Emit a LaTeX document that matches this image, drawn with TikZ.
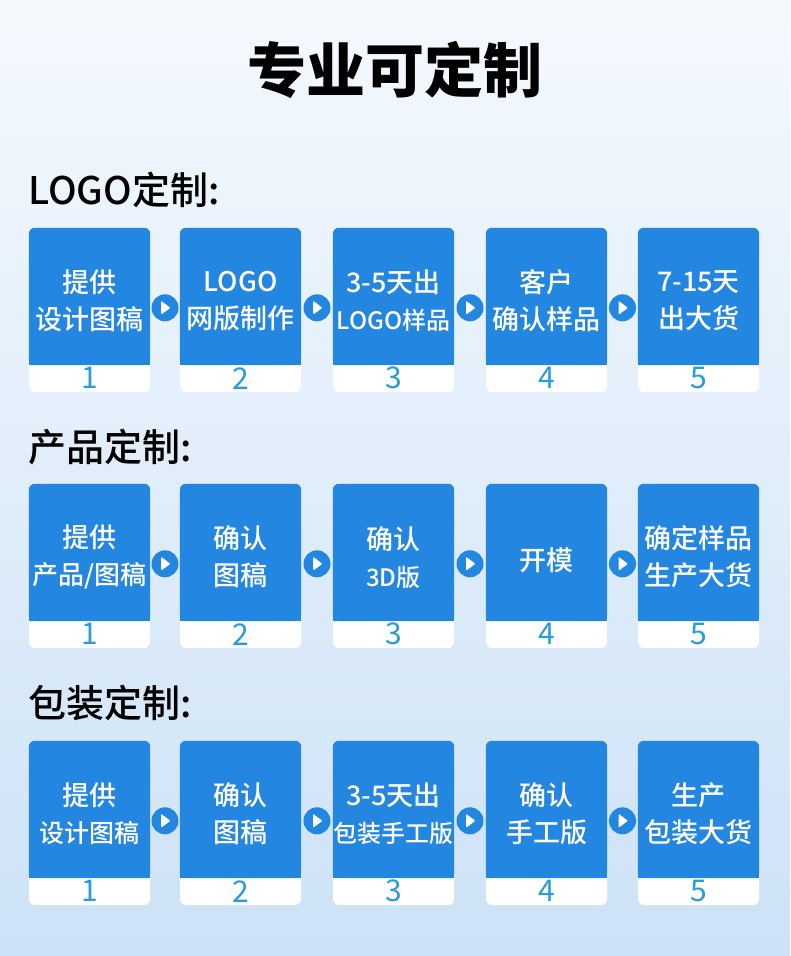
\documentclass[tikz,border=0pt]{standalone}
\usepackage{fontspec}
\setmainfont{Noto Sans CJK SC}
\newfontfamily\cjkmedium{Noto Sans CJK SC Medium}
\usepackage{tikz}
\usetikzlibrary{positioning, calc}
\definecolor{cardblue}{HTML}{2386E0}
\definecolor{numblue}{HTML}{2A9BDB}
\definecolor{bgtop}{HTML}{F4F9FD}
\definecolor{bgbottom}{HTML}{CDE2F7}

\begin{document}
\begin{tikzpicture}[
    x = 1pt, y = 1pt,
    card/.style = {
      rectangle, fill = white, rounded corners = 6pt,
      inner sep = 0pt, minimum width = 121pt, minimum height = 164pt
    },
    cardtext/.style = {
      text = white, align = center, inner sep = 0pt,
      font = \cjkmedium\fontsize{27}{37}\selectfont
    },
    stepnum/.style = {
      text = numblue, inner sep = 0pt, font = \fontsize{30}{30}\selectfont
    },
    play/.style = {
      circle, fill = cardblue, inner sep = 0pt, minimum size = 27pt
    },
    heading/.style = {
      anchor = west, inner sep = 0pt, font = \cjkmedium\fontsize{38}{38}\selectfont
    },
    ]

    % background
    \shade [top color = bgtop, bottom color = bgbottom] (0,0) rectangle (790,-956);
    \useasboundingbox (0,0) rectangle (790,-956);

    % title
    \node  [font = \fontsize{59}{59}\bfseries\selectfont]  (title)  at  (395,-70)  {专业可定制};

    % section headings
    \node  [heading]  (head1)  at  (28,-190)  {LOGO定制:};
    \node  [heading]  (head2)  at  (28,-447)  {产品定制:};
    \node  [heading]  (head3)  at  (28,-703)  {包装定制:};

    % draw cards with numbers
    \foreach \r/\top in {1/228, 2/484, 3/741} {
      \foreach \i/\x in {1/89.5, 2/240.5, 3/393.5, 4/546.5, 5/698.5} {
        \node  [card]  (card\r\i)  at  (\x,-\top-82)  {};
        \fill  [cardblue, rounded corners = 6pt]  (card\r\i.north west)  rectangle  ($(card\r\i.south east)+(0,27)$);
        \fill  [cardblue]  ($(card\r\i.south west)+(0,27)$)  rectangle  ($(card\r\i.south east)+(0,40)$);
        \node  [stepnum]  (num\r\i)  at  ($(card\r\i.south)+(0,14)$)  {\i};
      }
      % draw play marks between cards
      \foreach \i [remember = \i as \lasti (initially 1)] in {2, ..., 5} {
        \node  [play]  (play\r\lasti)  at  ($(card\r\lasti.north east)!0.5!(card\r\i.north west)+(0,-80)$)  {};
        \fill  [white, rounded corners = 1pt]  ($(play\r\lasti.center)+(-4,7)$)  --  ($(play\r\lasti.center)+(5.5,0)$)  --  ($(play\r\lasti.center)+(-4,-7)$)  --  cycle;
      }
    }

    % card texts
    \node  [cardtext]  (text11)  at  ($(card11.north)+(0,-73)$)  {提供\\设计图稿};
    \node  [cardtext]  (text12)  at  ($(card12.north)+(0,-73)$)  {LOGO\\网版制作};
    \node  [cardtext]  (text13)  at  ($(card13.north)+(0,-73)$)  {3-5天出\\{\fontsize{24}{37}\selectfont LOGO样品}};
    \node  [cardtext]  (text14)  at  ($(card14.north)+(0,-73)$)  {客户\\确认样品};
    \node  [cardtext]  (text15)  at  ($(card15.north)+(0,-73)$)  {7-15天\\出大货};

    \node  [cardtext]  (text21)  at  ($(card21.north)+(0,-73)$)  {提供\\{\fontsize{26}{37}\selectfont 产品/图稿}};
    \node  [cardtext]  (text22)  at  ($(card22.north)+(0,-73)$)  {确认\\图稿};
    \node  [cardtext]  (text23)  at  ($(card23.north)+(0,-74)$)  {确认\\{\fontsize{24}{37}\selectfont 3D版}};
    \node  [cardtext]  (text24)  at  ($(card24.north)+(0,-76)$)  {开模};
    \node  [cardtext]  (text25)  at  ($(card25.north)+(0,-73)$)  {确定样品\\生产大货};

    \node  [cardtext]  (text31)  at  ($(card31.north)+(0,-73)$)  {提供\\{\fontsize{25}{37}\selectfont 设计图稿}};
    \node  [cardtext]  (text32)  at  ($(card32.north)+(0,-73)$)  {确认\\图稿};
    \node  [cardtext]  (text33)  at  ($(card33.north)+(0,-73)$)  {3-5天出\\{\fontsize{24}{37}\selectfont 包装手工版}};
    \node  [cardtext]  (text34)  at  ($(card34.north)+(0,-73)$)  {确认\\手工版};
    \node  [cardtext]  (text35)  at  ($(card35.north)+(0,-73)$)  {生产\\包装大货};
\end{tikzpicture}
\end{document}
